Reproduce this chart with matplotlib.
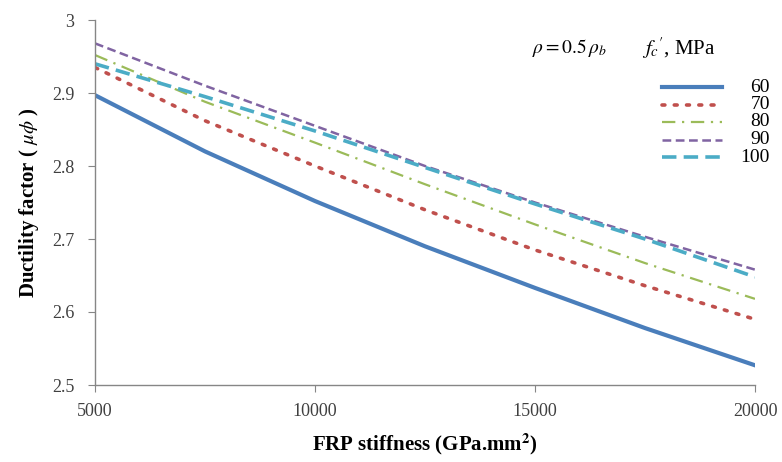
import matplotlib
matplotlib.use("Agg")
import matplotlib.pyplot as plt
from matplotlib.lines import Line2D

plt.rcParams['font.family'] = ['Liberation Serif', 'DejaVu Serif']
plt.rcParams['mathtext.fontset'] = 'stix'

# FRP stiffness (GPa.mm^2)
stiffness = [5000, 7500, 10000, 12500, 15000, 17500, 20000]

# Ductility factor for each concrete strength f'c (MPa)
fc_labels = ['60', '70', '80', '90', '100']
mu_60 = [2.897, 2.820, 2.752, 2.690, 2.633, 2.578, 2.527]
mu_70 = [2.935, 2.862, 2.800, 2.740, 2.685, 2.636, 2.590]
mu_80 = [2.952, 2.888, 2.832, 2.775, 2.720, 2.667, 2.618]
mu_90 = [2.968, 2.910, 2.855, 2.800, 2.750, 2.703, 2.658]
mu_100 = [2.940, 2.895, 2.848, 2.798, 2.748, 2.700, 2.648]

series = [mu_60, mu_70, mu_80, mu_90, mu_100]
colors = ['#4A7EBB', '#C0504D', '#9BBB59', '#8064A2', '#4BACC6']
styles = [
    dict(linestyle='-', linewidth=3.0),
    dict(linestyle=(0, (0.8, 2.6)), linewidth=2.6, dash_capstyle='round'),
    dict(linestyle=(0, (6, 3, 1, 3)), linewidth=1.6),
    dict(linestyle=(0, (3.5, 1.8)), linewidth=1.8),
    dict(linestyle=(0, (4, 2)), linewidth=2.6),
]

W, H = 782, 462
fig = plt.figure(figsize=(W / 100, H / 100), dpi=100)
ax = fig.add_axes([95 / W, 1 - 385 / H, 660 / W, 365 / H])

for vals, c, st in zip(series, colors, styles):
    ax.plot(stiffness, vals, color=c, **st)

ax.set_xlim(5000, 20000)
ax.set_ylim(2.5, 3.0)
ax.set_xticks([5000, 10000, 15000, 20000])
ax.set_yticks([2.5, 2.6, 2.7, 2.8, 2.9, 3.0])
ax.set_yticklabels(['2.5', '2.6', '2.7', '2.8', '2.9', '3'])

for side in ('top', 'right'):
    ax.spines[side].set_visible(False)
for side in ('left', 'bottom'):
    ax.spines[side].set_color('#868686')
    ax.spines[side].set_linewidth(1.0)
ax.tick_params(axis='both', direction='out', length=5, color='#868686',
               labelsize=13, labelcolor='#404040', pad=8)
ax.tick_params(axis='y', pad=10)

ax.set_xlabel(r'FRP stiffness (GPa.mm$^\mathbf{2}$)', fontsize=15,
              fontweight='bold', labelpad=8)
ax.set_ylabel(r'Ductility factor ( $\mu\phi$ )', fontsize=15,
              fontweight='bold', labelpad=8)

# Header text above the key
fig.text(532 / W, 1 - 48 / H, r'$\rho = 0.5\,\rho_b$', fontsize=14,
         va='center', ha='left')
fig.text(642 / W, 1 - 48 / H, r"$f_c{}'$, MPa", fontsize=15,
         va='center', ha='left')

# Key: sample line plus right-aligned strength label per row
row_y = [87, 104.5, 122, 139.5, 157]
for lab, c, st, yy in zip(fc_labels, colors, styles, row_y):
    fy = 1 - yy / H
    fig.add_artist(Line2D([662 / W, 722 / W], [fy, fy], color=c,
                          transform=fig.transFigure, **st))
    fig.text(770 / W, fy, lab, fontsize=14, ha='right', va='center')

fig.savefig('out.png', dpi=100)
